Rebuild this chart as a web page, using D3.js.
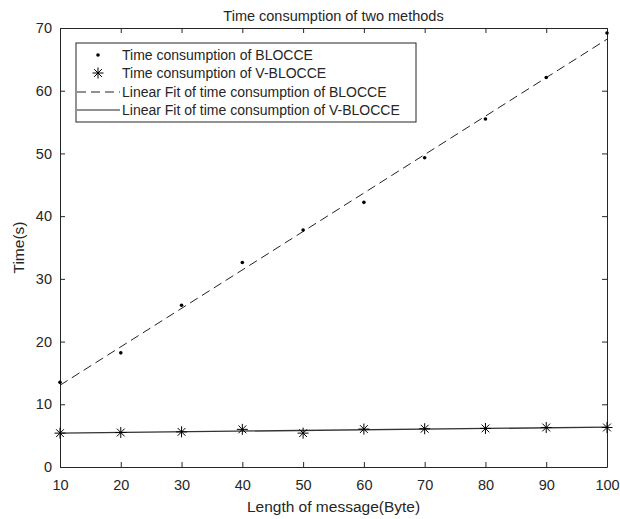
<!DOCTYPE html>
<html>
<head>
    <meta charset="utf-8">
    <title>Time consumption of two methods</title>
    <script src="https://d3js.org/d3.v7.min.js"></script>
    <style>
        body { margin: 0; background: #fff; }
        text { font-family: "Liberation Sans", Arial, sans-serif; fill: #262626; }
    </style>
</head>
<body>
    <svg width="620" height="519" id="mainSvg"></svg>
    <script>
        // data
        const lengths = [10, 20, 30, 40, 50, 60, 70, 80, 90, 100];
        const blocce = [13.5, 18.2, 25.8, 32.6, 37.8, 42.2, 49.3, 55.5, 62.1, 69.2];
        const vBlocce = [5.4, 5.5, 5.6, 6.0, 5.4, 6.05, 6.1, 6.15, 6.3, 6.3];
        const xTicks = [10, 20, 30, 40, 50, 60, 70, 80, 90, 100];
        const yTicks = [0, 10, 20, 30, 40, 50, 60, 70];
        const legendLabels = [
            "Time consumption of BLOCCE",
            "Time consumption of V-BLOCCE",
            "Linear Fit of time consumption of BLOCCE",
            "Linear Fit of time consumption of V-BLOCCE"
        ];

        const svg = d3.select("#mainSvg");
        const margin = { top: 28, right: 13, bottom: 52, left: 60 };
        const width = +svg.attr("width") - margin.left - margin.right;
        const height = +svg.attr("height") - margin.top - margin.bottom;
        const axisColor = "#262626";

        const g = svg.append("g")
            .attr("transform", `translate(${margin.left},${margin.top})`);

        const x = d3.scaleLinear().domain([10, 100]).range([0, width]);
        const y = d3.scaleLinear().domain([0, 70]).range([height, 0]);

        // least squares fit
        const fit = function(xs, ys) {
            const mx = d3.mean(xs), my = d3.mean(ys);
            let sxy = 0, sxx = 0;
            xs.forEach((v, i) => { sxy += (v - mx) * (ys[i] - my); sxx += (v - mx) * (v - mx); });
            const b = sxy / sxx;
            return v => my + b * (v - mx);
        };
        const fitA = fit(lengths, blocce);
        const fitB = fit(lengths, vBlocce);

        // axes (MATLAB style box, ticks inside)
        const tickLen = 5;
        const xAxis = g.append("g").attr("transform", `translate(0,${height})`)
            .call(d3.axisBottom(x).tickValues(xTicks).tickSizeInner(-tickLen).tickSizeOuter(0).tickPadding(13));
        const xTop = g.append("g")
            .call(d3.axisTop(x).tickValues(xTicks).tickSizeInner(-tickLen).tickSizeOuter(0).tickFormat(""));
        const yAxis = g.append("g")
            .call(d3.axisLeft(y).tickValues(yTicks).tickSizeInner(-tickLen).tickSizeOuter(0).tickPadding(8));
        const yRight = g.append("g").attr("transform", `translate(${width},0)`)
            .call(d3.axisRight(y).tickValues(yTicks).tickSizeInner(-tickLen).tickSizeOuter(0).tickFormat(""));

        [xAxis, xTop, yAxis, yRight].forEach(a => {
            a.selectAll("path").attr("stroke", axisColor).attr("stroke-width", 1);
            a.selectAll("line").attr("stroke", axisColor).attr("stroke-width", 1);
            a.selectAll("text").attr("font-size", 14.5).attr("fill", axisColor)
                .style("font-family", "'Liberation Sans', Arial, sans-serif");
        });

        // fit lines
        const line = d3.line().x(d => x(d[0])).y(d => y(d[1]));
        g.append("path")
            .datum([[10, fitA(10)], [100, fitA(100)]])
            .attr("d", line)
            .attr("fill", "none")
            .attr("stroke", "#222")
            .attr("stroke-width", 1)
            .attr("stroke-dasharray", "9,5");
        g.append("path")
            .datum([[10, fitB(10)], [100, fitB(100)]])
            .attr("d", line)
            .attr("fill", "none")
            .attr("stroke", "#333")
            .attr("stroke-width", 1.3);

        // points
        g.selectAll("circle.dot").data(lengths).join("circle")
            .attr("class", "dot")
            .attr("cx", d => x(d))
            .attr("cy", (d, i) => y(blocce[i]))
            .attr("r", 1.8)
            .attr("fill", "#000");

        const starPath = function(r) {
            const s = r * Math.SQRT1_2;
            return `M0,${-r}V${r}M${-r},0H${r}M${-s},${-s}L${s},${s}M${-s},${s}L${s},${-s}`;
        };
        g.selectAll("path.star").data(lengths).join("path")
            .attr("class", "star")
            .attr("transform", (d, i) => `translate(${x(d)},${y(vBlocce[i])})`)
            .attr("d", starPath(5.5))
            .attr("fill", "none")
            .attr("stroke", "#000")
            .attr("stroke-width", 1);

        // title and axis labels
        svg.append("text")
            .attr("x", margin.left + width / 2).attr("y", 21)
            .attr("text-anchor", "middle").attr("font-size", 14.5)
            .text("Time consumption of two methods");
        svg.append("text")
            .attr("x", margin.left + width / 2).attr("y", 512)
            .attr("text-anchor", "middle").attr("font-size", 15.5)
            .text("Length of message(Byte)");
        svg.append("text")
            .attr("transform", `translate(24,${margin.top + height / 2}) rotate(-90)`)
            .attr("text-anchor", "middle").attr("font-size", 15.5)
            .text("Time(s)");

        // legend
        const lg = svg.append("g").attr("transform", "translate(76,43)");
        lg.append("rect")
            .attr("width", 340).attr("height", 79)
            .attr("fill", "#fff").attr("stroke", axisColor).attr("stroke-width", 1);
        const rowY = [12, 30, 49, 67];
        const rows = lg.selectAll("g.row").data(legendLabels).join("g")
            .attr("class", "row")
            .attr("transform", (d, i) => `translate(0,${rowY[i]})`);
        rows.append("text")
            .attr("x", 46).attr("y", 5)
            .attr("font-size", 14).attr("fill", "#000")
            .text(d => d);
        rows.filter((d, i) => i === 0).append("circle")
            .attr("cx", 22).attr("cy", 0).attr("r", 1.8).attr("fill", "#000");
        rows.filter((d, i) => i === 1).append("path")
            .attr("transform", "translate(22,0)")
            .attr("d", starPath(5.5)).attr("stroke", "#000").attr("fill", "none");
        rows.filter((d, i) => i === 2).append("line")
            .attr("x1", 1).attr("x2", 44).attr("stroke", "#222").attr("stroke-dasharray", "9,5");
        rows.filter((d, i) => i === 3).append("line")
            .attr("x1", 1).attr("x2", 44).attr("stroke", "#222");
    </script>
</body>
</html>
